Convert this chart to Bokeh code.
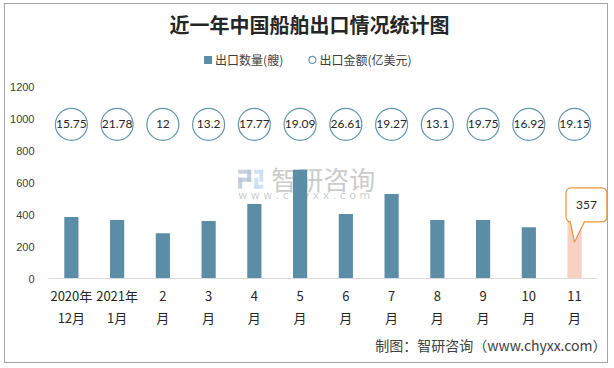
from bokeh.plotting import figure
from bokeh.models import Range1d, Label, FixedTicker, PolyAnnotation, ColumnDataSource, Title
from bokeh.core.properties import value
from bokeh.embed import file_html
from bokeh.resources import INLINE

months = ["2020年\n12月", "2021年\n1月", "2\n月", "3\n月", "4\n月", "5\n月",
          "6\n月", "7\n月", "8\n月", "9\n月", "10\n月", "11\n月"]
ships = [385, 366, 284, 360, 467, 682, 404, 530, 366, 366, 322, 357]
amounts = [15.75, 21.78, 12, 13.2, 17.77, 19.09, 26.61, 19.27, 13.1, 19.75, 16.92, 19.15]
y_ticks = [0, 200, 400, 600, 800, 1000, 1200]

title_text = "近一年中国船舶出口情况统计图"
legend_ships = "出口数量(艘)"
legend_amount = "出口金额(亿美元)"
footer_text = "制图：智研咨询（www.chyxx.com）"

BAR = "#5B8EA6"
HIGHLIGHT = "#F8D0C4"
CIRCLE = "#6496AF"
ORANGE = "#E6963C"
CJK = "Noto Sans CJK SC"

# outer box on the page: border from x=4..607, y=3..362
ML, MT = 4, 3
W, H = 604, 360
CX0, CY0 = ML + 1, MT + 1
CX1, CY1 = ML + W - 1, MT + H - 1
# plot geometry (page px): category slots 48..595, value axis 0 at 276, 1200 at 86
FL, FR, FT, FB = 48, 595, 86, 276
n = len(months)

def dx(px):
    return (px - FL) / (FR - FL) * n

def dy(py):
    return (FB - py) / (FB - FT) * 1200

xs = [i + 0.5 for i in range(n)]

p = figure(width=W, height=H, output_backend="svg", toolbar_location=None,
           x_range=Range1d(0, dx(CX1)), y_range=Range1d(0, dy(CY0)),
           min_border_left=FL - CX0, min_border_right=0,
           min_border_top=0, min_border_bottom=CY1 - FB)
p.styles = {"border": "1px solid #A6A6A6", "margin-left": f"{ML}px", "margin-top": f"{MT}px"}
p.outline_line_color = None
p.xgrid.visible = False
p.ygrid.visible = False

colors = [BAR] * (n - 1) + [HIGHLIGHT]
src = ColumnDataSource(dict(x=xs, top=ships, color=colors,
                            amt=[f"{a:g}" for a in amounts],
                            cy=[dy(123)] * n))

# title
p.text(x=[dx(308)], y=[dy(24)], text=[title_text], text_font=value(CJK), text_font_style="bold",
       text_font_size="20px", text_color="#262626", text_align="center", text_baseline="middle")
# legend
p.scatter(x=[dx(207)], y=[dy(59)], marker="square", size=8, fill_color=BAR, line_color=None)
p.text(x=[dx(214)], y=[dy(59)], text=[legend_ships], text_font=value(CJK), text_font_size="12px",
       text_color="#404040", text_align="left", text_baseline="middle")
p.scatter(x=[dx(311)], y=[dy(59)], marker="circle", size=7, fill_color="white",
          line_color=CIRCLE, line_width=1.2)
p.text(x=[dx(318)], y=[dy(59)], text=[legend_amount], text_font=value(CJK), text_font_size="12px",
       text_color="#404040", text_align="left", text_baseline="middle")

# watermark
p.text(x=[dx(270)], y=[dy(177)], text=["智研咨询"], text_font=value(CJK),
       text_font_size="26px", text_color="#BDBDBD", text_alpha=0.8,
       text_baseline="middle", text_align="left")
p.text(x=[dx(237)], y=[dy(194)], text=["w w w . c h y x x . c o m"], text_font=value("DejaVu Sans"),
       text_font_size="11px", text_color="#BDBDBD", text_alpha=0.8,
       text_baseline="middle", text_align="left")
logo_l = [237, 246, 237, 237, 253, 258, 253, 253]
logo_r = [250, 250, 250, 241, 262, 262, 262, 257]
logo_t = [168, 168, 176, 176, 168, 168, 183, 176]
logo_b = [172, 180, 180, 187, 172, 180, 187, 187]
logo_c = ["#B7C3D6"] * 4 + ["#C6DCEF"] * 4
p.quad(left=[dx(v) for v in logo_l], right=[dx(v) for v in logo_r],
       top=[dy(v) for v in logo_t], bottom=[dy(v) for v in logo_b],
       fill_color=logo_c, line_color=None, fill_alpha=0.8)

p.vbar(x="x", top="top", width=0.31, fill_color="color", line_color=None, source=src)

p.scatter(x="x", y="cy", size=32, marker="circle", fill_color="white",
          line_color=CIRCLE, line_width=1.2, source=src)
p.text(x="x", y="cy", text="amt", text_font=value("Lato"), text_font_size="12px",
       text_color="#262626", text_align="center", text_baseline="middle", source=src)

# axes
p.yaxis.ticker = FixedTicker(ticks=y_ticks)
p.yaxis.axis_line_color = None
p.yaxis.major_tick_line_color = None
p.yaxis.minor_tick_line_color = None
p.yaxis.major_label_standoff = 8
p.yaxis.major_label_text_font = "Liberation Sans"
p.yaxis.major_label_text_font_size = "11px"
p.yaxis.major_label_text_color = "#404040"

p.xaxis.ticker = FixedTicker(ticks=xs)
p.xaxis.major_label_overrides = {x: m for x, m in zip(xs, months)}
p.xaxis.bounds = (0, n)
p.xaxis.axis_line_color = "#D9D9D9"
p.xaxis.major_tick_line_color = None
p.xaxis.minor_tick_line_color = None
p.xaxis.major_label_standoff = 1
p.xaxis.major_label_text_font = CJK
p.xaxis.major_label_text_font_size = "13px"
p.xaxis.major_label_text_color = "#262626"

# footer
p.add_layout(Title(text=footer_text, align="right", text_font=CJK, text_font_size="14px",
                   text_font_style="normal", text_color="#404040", standoff=5, offset=3), "below")

# callout for last bar
p.add_layout(Label(x=dx(584), y=dy(203), text=f"{ships[-1]}", text_font="Lato", text_font_size="12px",
                   text_color="#262626", text_align="center", text_baseline="middle",
                   background_fill_color="white", border_line_color=ORANGE, border_line_width=1.2,
                   border_radius=5, padding=(10, 13)))
p.add_layout(PolyAnnotation(xs=[dx(568), dx(582), dx(572)], ys=[dy(218), dy(218), dy(240)],
                            fill_color="white", fill_alpha=1, line_color=None))
p.line(x=[dx(568), dx(572), dx(582)], y=[dy(220), dy(240), dy(220)], line_color=ORANGE,
       line_width=1.2, level="overlay")

open("out.html", "w").write(file_html(p, INLINE))
